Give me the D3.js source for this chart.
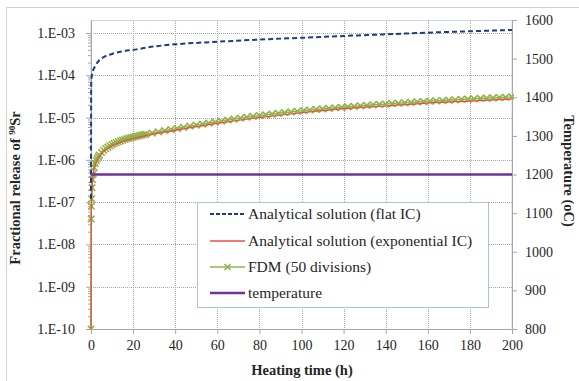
<!DOCTYPE html>
<html>
<head>
<meta charset="utf-8">
<script src="https://cdn.jsdelivr.net/npm/d3@7"></script>
<style>
  body { margin: 0; background: #fff; }
</style>
</head>
<body>
<div id="chart"></div>
<script>
// heating time (h) and fractional release values
var flatTimes = [0, 0.1, 0.3, 0.5, 1, 2, 4, 6, 10, 15, 20, 30, 40, 60, 80, 100, 120, 140, 160, 180, 200];
var flatRelease = [1.2e-7, 6e-5, 9e-5, 1.05e-4, 1.3e-4, 1.65e-4, 2.3e-4, 2.7e-4, 3.2e-4, 3.7e-4, 4.0e-4,
  4.8e-4, 5.4e-4, 6.2e-4, 7.0e-4, 7.7e-4, 8.5e-4, 9.3e-4, 1.02e-3, 1.1e-3, 1.18e-3];

var expTimes = [0, 0.1, 0.2, 0.3, 0.5, 1, 2, 3, 5, 7, 10, 15, 20, 30, 40, 60, 80, 100, 120, 140, 160, 180, 200];
var expRelease = [1e-10, 3.5e-8, 7e-8, 1.1e-7, 2e-7, 4.2e-7, 7.6e-7, 1.0e-6, 1.4e-6, 1.73e-6, 2.15e-6, 2.72e-6,
  3.2e-6, 4.1e-6, 5.0e-6, 7.3e-6, 1.0e-5, 1.3e-5, 1.62e-5, 1.88e-5, 2.2e-5, 2.46e-5, 2.75e-5];

var fdmTimes = [0, 0.1, 0.2, 0.3, 0.5, 0.75, 1, 1.5, 2, 2.5, 3, 3.5, 4, 5, 6, 7, 8, 9, 10, 11, 12, 13, 14, 15, 16, 17, 18, 19,
  20, 21, 22, 23, 24, 25, 26, 29, 32, 35, 38, 41, 44, 47, 50, 53, 56, 59, 62, 65, 68, 71, 74, 77, 80, 83, 86,
  89, 92, 95, 98, 101, 104, 107, 110, 113, 116, 119, 122, 125, 128, 131, 134, 137, 140, 143, 146, 149, 152,
  155, 158, 161, 164, 167, 170, 173, 176, 179, 182, 185, 188, 191, 194, 197, 200];
// in units of 1e-6
var fdmRelease = [0.0001, 0.04, 0.08, 0.12, 0.22, 0.34, 0.46, 0.66, 0.82, 0.96, 1.08, 1.2, 1.3, 1.5, 1.68, 1.85, 2.0, 2.15,
  2.3, 2.43, 2.56, 2.68, 2.8, 2.92, 3.03, 3.14, 3.25, 3.35, 3.45, 3.55, 3.65, 3.75, 3.85, 3.95, 4.0, 4.3, 4.6,
  4.9, 5.2, 5.5, 5.9, 6.3, 6.65, 7.0, 7.4, 7.8, 8.2, 8.7, 9.2, 9.7, 10.2, 10.7, 11.1, 11.6, 12.1, 12.6, 13.1,
  13.6, 14.1, 14.6, 15.1, 15.6, 16.0, 16.5, 17.0, 17.5, 18.0, 18.5, 19.0, 19.5, 20.0, 20.4, 20.9, 21.4, 21.9,
  22.4, 22.9, 23.4, 23.9, 24.4, 24.9, 25.3, 25.8, 26.3, 26.8, 27.3, 27.8, 28.3, 28.8, 29.2, 29.7, 30.2, 30.7];

var tempTimes = [0, 200];
var tempValues = [1200, 1200];

var xTicks = [0, 20, 40, 60, 80, 100, 120, 140, 160, 180, 200];
var yTicks = [1e-10, 1e-9, 1e-8, 1e-7, 1e-6, 1e-5, 1e-4, 1e-3];
var tempTicks = [800, 900, 1000, 1100, 1200, 1300, 1400, 1500, 1600];

var legendLabels = ['Analytical solution (flat IC)', 'Analytical solution (exponential IC)',
  'FDM (50 divisions)', 'temperature'];

var W = 579, H = 381;
var plot = { left: 91, right: 512, top: 20, bottom: 329 };
var FONT = "'Liberation Serif'";

var svg = d3.select('#chart').append('svg').attr('width', W).attr('height', H);

// chart border (only top/left edges fall inside the picture)
svg.append('rect').attr('x', 6.5).attr('y', 7.5).attr('width', 620).attr('height', 420)
  .attr('fill', 'none').attr('stroke', '#d0d0d0');

var x = d3.scaleLinear().domain([0, 200]).range([plot.left, plot.right]);
var y = d3.scaleLog().domain([1e-10, 2.03e-3]).range([plot.bottom, plot.top]);
var yR = d3.scaleLinear().domain([800, 1600]).range([plot.bottom, plot.top]);

// plot area
svg.append('rect').attr('x', plot.left).attr('y', plot.top + 0.5)
  .attr('width', plot.right - plot.left).attr('height', plot.bottom - plot.top)
  .attr('fill', 'none').attr('stroke', '#c6d7ef');

// gridlines
var grid = svg.append('g').attr('stroke', '#a6a6a6').attr('stroke-width', 1).attr('stroke-dasharray', '1,1');
xTicks.slice(1, -1).forEach(function (t) {
  grid.append('line').attr('x1', Math.round(x(t)) + 0.5).attr('x2', Math.round(x(t)) + 0.5)
    .attr('y1', plot.top + 1).attr('y2', plot.bottom);
});
yTicks.slice(1).forEach(function (t) {
  grid.append('line').attr('y1', Math.round(y(t)) + 0.5).attr('y2', Math.round(y(t)) + 0.5)
    .attr('x1', plot.left).attr('x2', plot.right);
});

function styleAxis(g) {
  g.attr('font-family', null).attr('font-size', null);
  g.selectAll('path, line').attr('stroke', '#a6a6a6');
  g.selectAll('text').style('font-family', FONT).style('font-size', '14px').attr('fill', '#262626');
}

// left minor ticks
var minor = [];
yTicks.slice(0, -1).forEach(function (d) {
  for (var k = 2; k <= 9; k++) minor.push(d * k);
});
svg.append('g').attr('transform', 'translate(' + plot.left + ',0)')
  .call(d3.axisLeft(y).tickValues(minor).tickSize(3).tickFormat(''))
  .call(styleAxis).select('.domain').remove();

var fmtE = function (d) {
  var e = Math.round(-Math.log10(d));
  return '1.E-' + (e < 10 ? '0' + e : e);
};
svg.append('g').attr('transform', 'translate(' + plot.left + ',0)')
  .call(d3.axisLeft(y).tickValues(yTicks).tickSize(5).tickPadding(11).tickFormat(fmtE).tickSizeOuter(0))
  .call(styleAxis);

svg.append('g').attr('transform', 'translate(' + plot.right + ',0)')
  .call(d3.axisRight(yR).tickValues(tempTicks).tickSize(5).tickPadding(8).tickFormat(d3.format('d')).tickSizeOuter(0))
  .call(styleAxis);

svg.append('g').attr('transform', 'translate(0,' + plot.bottom + ')')
  .call(d3.axisBottom(x).tickValues(xTicks).tickSize(5).tickPadding(6).tickSizeOuter(0))
  .call(styleAxis);

// series
svg.append('clipPath').attr('id', 'clip').append('rect')
  .attr('x', plot.left - 4).attr('y', plot.top).attr('width', plot.right - plot.left + 6)
  .attr('height', plot.bottom - plot.top);
var layer = svg.append('g').attr('clip-path', 'url(#clip)');

var lineL = d3.line().x(function (d) { return x(d[0]); }).y(function (d) { return y(d[1]); })
  .curve(d3.curveMonotoneX);

var flat = flatTimes.map(function (t, i) { return [t, flatRelease[i]]; });
var expo = expTimes.map(function (t, i) { return [t, expRelease[i]]; });
var fdm = fdmTimes.map(function (t, i) { return [t, fdmRelease[i] * 1e-6]; });
var temp = tempTimes.map(function (t, i) { return [t, tempValues[i]]; });

var GREEN = '#8eb44e', RED = '#f54b3f', NAVY = '#1f3c7c', PURPLE = '#7030a0';

layer.append('path').datum(fdm).attr('d', lineL)
  .attr('fill', 'none').attr('stroke', GREEN).attr('stroke-width', 1.5);

var xMark = function (sel, s) {
  sel.append('path').attr('d', 'M' + (-s) + ',' + (-s) + 'L' + s + ',' + s + 'M' + (-s) + ',' + s + 'L' + s + ',' + (-s))
    .attr('stroke', GREEN).attr('stroke-width', 1.6).attr('fill', 'none');
};
layer.selectAll('g.mk').data(fdm).enter().append('g').attr('class', 'mk')
  .attr('transform', function (d) { return 'translate(' + x(d[0]) + ',' + y(d[1]) + ')'; })
  .each(function () { xMark(d3.select(this), 3.3); });

layer.append('path').datum(expo).attr('d', lineL)
  .attr('fill', 'none').attr('stroke', RED).attr('stroke-width', 1.2);

layer.append('path').datum(flat).attr('d', lineL)
  .attr('fill', 'none').attr('stroke', NAVY).attr('stroke-width', 2).attr('stroke-dasharray', '5,3');

layer.append('path').datum(temp)
  .attr('d', d3.line().x(function (d) { return x(d[0]); }).y(function (d) { return yR(d[1]); }))
  .attr('fill', 'none').attr('stroke', PURPLE).attr('stroke-width', 2.5);

// legend
var lg = svg.append('g');
lg.append('rect').attr('x', 197.5).attr('y', 202.5).attr('width', 291).attr('height', 105)
  .attr('fill', '#fff').attr('stroke', '#a9c1e3');
var rowY = [214, 241, 267, 293];
legendLabels.forEach(function (label, i) {
  var yy = rowY[i];
  var ln = lg.append('line').attr('x1', 210).attr('x2', 245).attr('y1', yy).attr('y2', yy);
  if (i === 0) ln.attr('stroke', NAVY).attr('stroke-width', 2).attr('stroke-dasharray', '4,2');
  if (i === 1) ln.attr('stroke', RED).attr('stroke-width', 1.5);
  if (i === 2) {
    ln.attr('stroke', GREEN).attr('stroke-width', 1.5);
    var m = lg.append('g').attr('transform', 'translate(227.5,' + yy + ')');
    xMark(m, 3);
  }
  if (i === 3) ln.attr('stroke', PURPLE).attr('stroke-width', 2.5);
  lg.append('text').attr('x', 248).attr('y', yy + 5).attr('fill', '#262626')
    .style('font-family', FONT).style('font-size', '15.5px').text(label);
});

// axis titles
var lt = svg.append('text').attr('transform', 'translate(20,' + 188 + ') rotate(-90)')
  .attr('text-anchor', 'middle').attr('fill', '#262626')
  .style('font-family', FONT).style('font-size', '14.5px').style('font-weight', 'bold');
lt.append('tspan').text('Fractional release of ');
lt.append('tspan').attr('dy', -5).style('font-size', '9px').text('90');
lt.append('tspan').attr('dy', 5).text('Sr');

svg.append('text').attr('transform', 'translate(564,171) rotate(90)')
  .attr('text-anchor', 'middle').attr('fill', '#262626')
  .style('font-family', FONT).style('font-size', '14.5px').style('font-weight', 'bold')
  .text('Temperature (oC)');

svg.append('text').attr('x', 302).attr('y', 375).attr('text-anchor', 'middle').attr('fill', '#262626')
  .style('font-family', FONT).style('font-size', '14.5px').style('font-weight', 'bold')
  .text('Heating time (h)');
</script>
</body>
</html>
